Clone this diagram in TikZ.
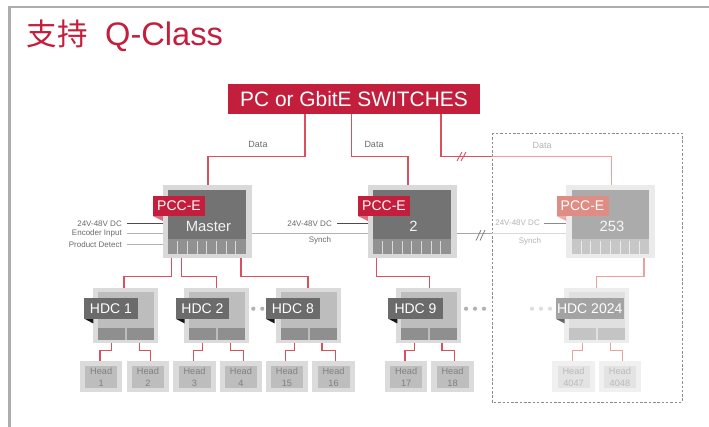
\documentclass[tikz,border=0pt]{standalone}
\usepackage{fontspec}
\usetikzlibrary{calc}
\setmainfont{Liberation Sans}
\newfontfamily\cjk{Noto Sans CJK SC}
\definecolor{qred}{HTML}{C41E3D}
\definecolor{qwire}{HTML}{D9505F}
\definecolor{qwirel}{HTML}{EDA09F}
\definecolor{qpale}{HTML}{DF8C84}
\definecolor{qtxt}{HTML}{6A6A6C}
\definecolor{qtxtl}{HTML}{B4B4B6}
% palettes: n = normal, l = faded
\colorlet{nouter}{black!14}\colorlet{ninner}{black!26}\colorlet{nport}{black!44}
\colorlet{ntag}{black!58}\colorlet{nfold}{black!90}
\colorlet{nhout}{black!14}\colorlet{nhin}{black!26}\colorlet{nhtx}{black!50}
\colorlet{louter}{black!7}\colorlet{linner}{black!12}\colorlet{lport}{black!23}
\colorlet{ltag}{black!36}\colorlet{lfold}{black!60}
\colorlet{lhout}{black!6}\colorlet{lhin}{black!11}\colorlet{lhtx}{black!27}
\colorlet{npo}{black!15}\colorlet{npi}{black!55}\colorlet{npp}{black!43}
\colorlet{nptag}{qred}\colorlet{npf}{qred!65}\colorlet{npt}{black!5}
\colorlet{lpo}{black!8}\colorlet{lpi}{black!33}\colorlet{lpp}{black!22}
\colorlet{lptag}{qpale}\colorlet{lpf}{qpale!70}\colorlet{lpt}{black!3}
\tikzset{
 x=1pt,y=-1pt,
 wire/.style={qwire,line width=1.1pt},
 wirel/.style={qwirel,line width=1.1pt},
 sig/.style={draw=#1,line width=1pt},
 lab/.style={font=\fontsize{8}{9}\selectfont,text=qtxt,inner sep=0pt},
 labl/.style={font=\fontsize{8}{9}\selectfont,text=qtxtl,inner sep=0pt},
 datalab/.style={font=\fontsize{9}{10}\selectfont,inner sep=0pt,anchor=center},
 box/.style={inner sep=0pt,outer sep=0pt,anchor=north west},
 tagtext/.style={font=\fontsize{#1}{#1}\selectfont,text=white,inner sep=0pt},
 headtext/.style={font=\fontsize{9.2}{11.7}\selectfont,align=center,inner sep=0pt},
 dot/.style={circle,inner sep=0pt,minimum size=4.2pt},
}
% \pccbox{name}{x}{label}{palette}
\newcommand{\pccbox}[4]{%
 \node[box,fill=#4po,minimum width=89pt,minimum height=72.5pt] (#1) at (#2,185.3) {};
 \fill[#4pi] (#2+5.5,190) rectangle (#2+83,239);
 \fill[#4pp] (#2+5.5,239) rectangle (#2+83,254);
 \foreach \i in {1,...,7}{\fill[#4po] (#2+5.5+\i*9.7-0.5,241) rectangle (#2+5.5+\i*9.7+0.5,254);}
 \fill[#4pf] (#2-9.5,216) -- (#2+0.3,216) -- (#2+0.3,221) -- cycle;
 \node[box,fill=#4ptag,minimum width=52pt,minimum height=20pt] (#1tag) at (#2-9.5,196) {};
 \node[tagtext=14] at (#1tag.center) {PCC-E};
 \node[tagtext=14.8,text=#4pt] (#1name) at (#2+46,226.5) {#3};
}
% \hdcbox{name}{x}{tag width}{tag offset}{label}{palette}
\newcommand{\hdcbox}[6]{%
 \node[box,fill=#6outer,minimum width=65pt,minimum height=55pt] (#1) at (#2,288) {};
 \fill[#6inner] (#2+4.5,292.5) rectangle (#2+60.5,340);
 \fill[#6port] (#2+4.5,328) rectangle (#2+32,340);
 \fill[#6port] (#2+33.5,328) rectangle (#2+60.5,340);
 \fill[#6fold] (#2+#4,318.7) -- (#2+#4+9,318.7) -- (#2+#4+9,323.5) -- cycle;
 \node[box,fill=#6tag,minimum width=#3pt,minimum height=20.7pt] (#1tag) at (#2+#4,298) {};
 \node[tagtext=14] at (#1tag.center) {#5};
}
% \headbox{name}{x}{number}{palette}
\newcommand{\headbox}[4]{%
 \node[box,fill=#4hout,minimum width=42.3pt,minimum height=31.3pt] (#1) at (#2,361) {};
 \node[box,fill=#4hin,minimum width=32pt,minimum height=22pt] (#1i) at (#2+5.2,366) {};
 \node[headtext,text=#4htx] at (#1i.center) {Head\\#3};
}
% \headwires{style}{hdc}{left head}{right head}
\newcommand{\headwires}[4]{%
 \draw[#1] ($(#2.south west)+(18.4,0)$) -- ++(0,7.7) -| ($(#3.north west)+(20,0)$);
 \draw[#1] ($(#2.south west)+(46,0)$) -- ++(0,7.7) -| ($(#4.north west)+(23.6,0)$);
}
\begin{document}
\begin{tikzpicture}
\useasboundingbox (0,0) rectangle (709,427);
\fill[white] (0,0) rectangle (709,427);
\draw[draw=black!32,line width=2.6pt] (9.5,427) -- (9.5,7) -- (709,7);
\node[anchor=base west,inner sep=0pt,text=qred,font=\fontsize{32.6}{33}\selectfont] (title) at (26.5,46) {{\cjk\fontsize{30.5}{32}\selectfont 支持}\hspace{17.5pt}Q-Class};

% dashed region
\draw[draw=black!45,line width=0.8pt,dash pattern=on 2.5pt off 1.8pt] (492,133) rectangle (682,402);

% devices
\node[box,fill=qred,minimum width=252pt,minimum height=30pt] (sw) at (228,84) {};
\node[tagtext=20.9] at (sw.center) {PC or GbitE SWITCHES};
\pccbox{m}{162.5}{Master}{n}
\pccbox{d}{367.5}{2}{n}
\pccbox{e}{566}{253}{l}

% HDC units
\node[dot,fill=black!30] (dA) at (253.3,308.7) {};
\node[dot,fill=black!30] (dB) at (262.3,308.7) {};
\hdcbox{ha}{93.3}{53.4}{-9}{HDC 1}{n}
\hdcbox{hb}{184.3}{53.4}{-8.6}{HDC 2}{n}
\hdcbox{hc}{276}{54.3}{-10.3}{HDC 8}{n}
\hdcbox{hd}{396}{54.4}{-7.7}{HDC 9}{n}
\hdcbox{he}{564.3}{68}{-8.6}{HDC 2024}{l}
\foreach \n/\x in {dC/466,dD/475,dE/484}{\node[dot,fill=black!30] (\n) at (\x,308.7) {};}
\foreach \n/\x in {dF/532,dG/541,dH/550}{\node[dot,fill=black!13] (\n) at (\x,308.7) {};}

% heads
\headbox{h1}{80}{1}{n}
\headbox{h2}{126.7}{2}{n}
\headbox{h3}{173.3}{3}{n}
\headbox{h4}{219.7}{4}{n}
\headbox{h15}{265.7}{15}{n}
\headbox{h16}{312.3}{16}{n}
\headbox{h17}{385}{17}{n}
\headbox{h18}{431.3}{18}{n}
\headbox{h47}{552.3}{4047}{l}
\headbox{h48}{598.7}{4048}{l}

% data connectors
\draw[wire] ($(sw.south west)+(77,0)$) |- ($(m.north west)+(45.5,-28.8)$) -- ($(m.north west)+(45.5,0)$);
\draw[wire] ($(sw.south west)+(123.5,0)$) |- ($(d.north west)+(40.5,-28.8)$) -- ($(d.north west)+(40.5,0)$);
\coordinate (cut) at (492,156.5);
\draw[wire] ($(sw.south west)+(213,0)$) |- (cut);
\draw[wirel] (cut) -| ($(e.north west)+(45.5,0)$);
\draw[qwire,line width=.9pt] (457,161) -- (462,152) (461,161) -- (466,152);

\node[datalab,text=qtxt] (ld1) at (258,144) {Data};
\node[datalab,text=qtxt] (ld2) at (374,144) {Data};
\node[datalab,text=qtxtl] (ld3) at (542,145) {Data};

% PCC to HDC
\draw[wire] ($(m.south west)+(9,0)$) -- ++(0,18.5) -| ($(ha.north west)+(30.7,0)$);
\draw[wire] ($(m.south west)+(19,0)$) -- ++(0,18.5) -| ($(hb.north west)+(32,0)$);
\draw[wire] ($(m.south west)+(78.5,0)$) -- ++(0,18.5) -| ($(hc.north west)+(32,0)$);
\draw[wire] ($(d.south west)+(9,0)$) -- ++(0,18.5) -| ($(hd.north west)+(33.7,0)$);
\draw[wirel] ($(e.south west)+(78,0)$) -- ++(0,18.5) -| ($(he.north west)+(32.4,0)$);

% HDC to heads
\headwires{wire}{ha}{h1}{h2}
\headwires{wire}{hb}{h3}{h4}
\headwires{wire}{hc}{h15}{h16}
\headwires{wire}{hd}{h17}{h18}
\headwires{wirel}{he}{h47}{h48}

% side signals
\node[lab,anchor=east] (p1) at (122,223.5) {24V-48V DC};
\node[lab,anchor=east] (p2) at (122,233.3) {Encoder Input};
\node[lab,anchor=east] (p3) at (122,244.3) {Product Detect};
\coordinate (q1) at (127,223.5);\coordinate (q2) at (127,233.5);\coordinate (q3) at (127,244.5);
\draw[sig=black!70] (q1) -- (q1 -| m.west);
\draw[sig=black!30] (q2) -- (q2 -| m.west);
\draw[sig=black!30] (q3) -- (q3 -| m.west);
\node[lab,anchor=east] (p4) at (332,223.5) {24V-48V DC};
\coordinate (q4) at (337,223.5);
\draw[sig=black!70] (q4) -- (q4 -| d.west);
\node[lab,anchor=center] (s1) at (320,240) {Synch};
\coordinate (q5) at (300,234);
\draw[sig=black!30] (q5 -| m.east) -- (q5 -| d.west);
\node[labl,anchor=east] (p5) at (540,223) {24V-48V DC};
\coordinate (q6) at (544,223.5);
\draw[sig=black!45] (q6) -- (q6 -| e.west);
\node[labl,anchor=center] (s2) at (530,241) {Synch};
\coordinate (q7) at (492,234);
\draw[sig=black!35] (q7 -| d.east) -- (q7);
\draw[sig=black!15] (q7) -- (q7 -| e.west);
\draw[black!50,line width=.8pt] (476,240.5) -- (481,230) (480,240.5) -- (485,230);
\end{tikzpicture}
\end{document}
